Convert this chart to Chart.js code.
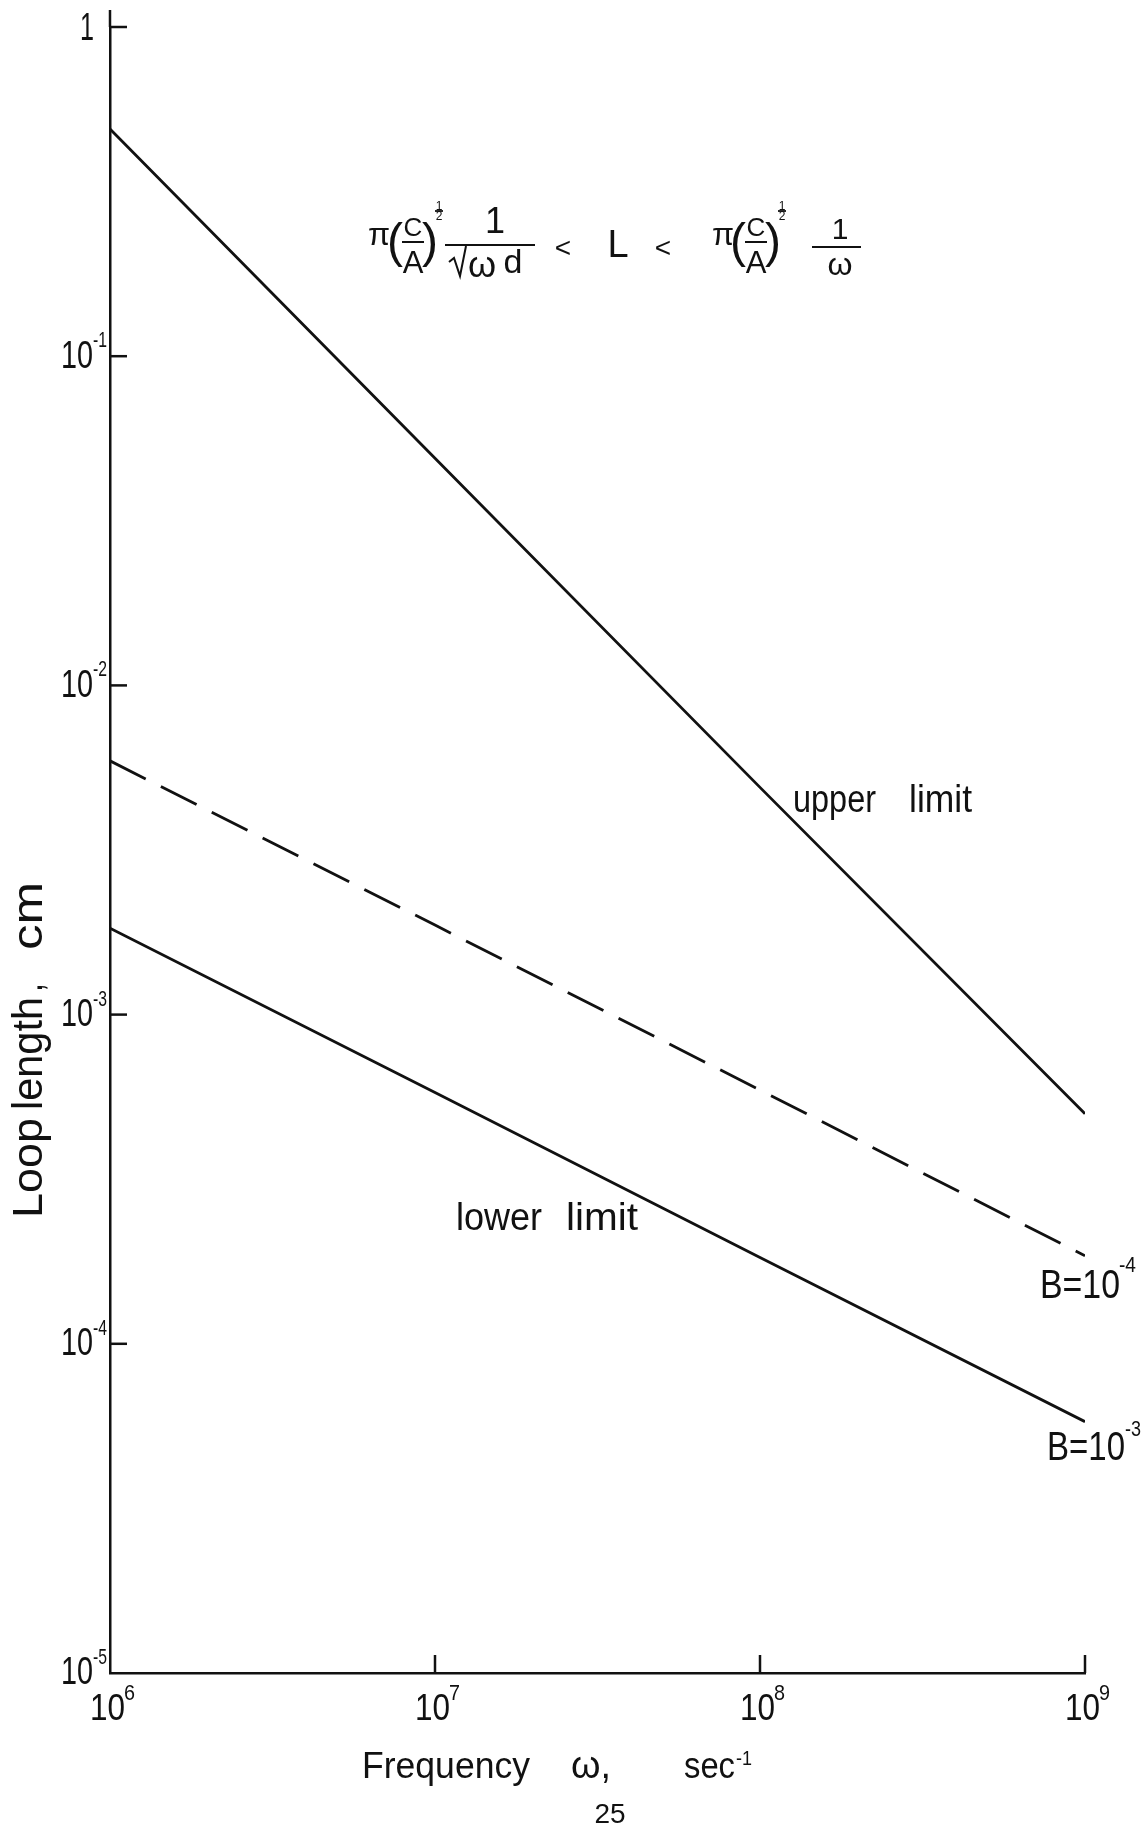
<!DOCTYPE html>
<html>
<head>
<meta charset="utf-8">
<title>Loop length</title>
<script src="https://cdn.jsdelivr.net/npm/chart.js@4/dist/chart.umd.min.js"></script>
<style>
  html, body { margin: 0; padding: 0; background: #fff; overflow: hidden; }
  #wrap { position: relative; width: 1147px; height: 1827px; }
</style>
</head>
<body>
<div id="wrap"><canvas id="loopChart"></canvas></div>
<script>
// frequency omega (sec^-1) and loop length L (cm)
const frequencies = [1e6, 1e7, 1e8, 1e9];
const upperLimit = [0.49, 0.049, 4.9e-3, 5.0e-4];
const lowerLimitB4 = [5.9e-3, 1.87e-3, 5.9e-4, 1.85e-4];
const lowerLimitB3 = [1.83e-3, 5.8e-4, 1.83e-4, 5.8e-5];

// axis ticks, labelled as powers of ten
const xTicks = [1e6, 1e7, 1e8, 1e9];
const xTickExp = ['6', '7', '8', '9'];
const yTicks = [1, 1e-1, 1e-2, 1e-3, 1e-4, 1e-5];
const yTickExp = ['', '-1', '-2', '-3', '-4', '-5'];

const ink = '#111';
const SANS = "'Liberation Sans', Arial, sans-serif";

function txt(ctx, s, x, y, size, align, base) {
  ctx.font = size + 'px ' + SANS;
  ctx.textAlign = align || 'left';
  ctx.textBaseline = base || 'alphabetic';
  ctx.fillText(s, x, y);
}

// text squeezed or stretched to a given width (lettering is narrow)
function fit(ctx, s, x, y, size, width, align, base) {
  ctx.font = size + 'px ' + SANS;
  const w = ctx.measureText(s).width;
  const x0 = align === 'right' ? x - width : align === 'center' ? x - width / 2 : x;
  ctx.save();
  ctx.textAlign = 'left';
  ctx.textBaseline = base || 'alphabetic';
  ctx.translate(x0, y);
  ctx.scale(width / w, 1);
  ctx.fillText(s, 0, 0);
  ctx.restore();
}

function seg(ctx, x1, y1, x2, y2, w) {
  ctx.lineWidth = w || 2.5;
  ctx.beginPath();
  ctx.moveTo(x1, y1);
  ctx.lineTo(x2, y2);
  ctx.stroke();
}

// small stacked 1/2 exponent
function half(ctx, x, y) {
  txt(ctx, '1', x, y - 4, 12, 'center', 'middle');
  seg(ctx, x - 4, y, x + 4, y, 1.8);
  txt(ctx, '2', x, y + 6, 12, 'center', 'middle');
}

function formula(ctx) {
  const d = 5; // vertical shift of the whole expression
  // left side: pi (C/A)^1/2 1/sqrt(wd)
  txt(ctx, 'π', 379, 231 + d, 32, 'center', 'middle');
  txt(ctx, '(', 395, 239 + d, 48, 'center', 'middle');
  txt(ctx, 'C', 413, 224 + d, 26, 'center', 'middle');
  seg(ctx, 402, 237 + d, 424, 237 + d, 2);
  txt(ctx, 'A', 413, 259 + d, 31, 'center', 'middle');
  txt(ctx, ')', 430, 239 + d, 48, 'center', 'middle');
  half(ctx, 439, 206 + d);
  txt(ctx, '1', 495, 218 + d, 36, 'center', 'middle');
  seg(ctx, 445, 240 + d, 535, 240 + d, 2);
  ctx.lineWidth = 2;
  ctx.beginPath();
  ctx.moveTo(449, 257 + d);
  ctx.lineTo(454, 253 + d);
  ctx.lineTo(460, 271 + d);
  ctx.lineTo(466, 241 + d);
  ctx.stroke();
  txt(ctx, 'ω', 482, 262 + d, 36, 'center', 'middle');
  txt(ctx, 'd', 513, 259 + d, 34, 'center', 'middle');

  txt(ctx, '<', 563, 244 + d, 28, 'center', 'middle');
  txt(ctx, 'L', 618, 242 + d, 38, 'center', 'middle');
  txt(ctx, '<', 663, 244 + d, 28, 'center', 'middle');

  // right side: pi (C/A)^1/2 1/w
  txt(ctx, 'π', 723, 231 + d, 32, 'center', 'middle');
  txt(ctx, '(', 738, 239 + d, 48, 'center', 'middle');
  txt(ctx, 'C', 756, 224 + d, 26, 'center', 'middle');
  seg(ctx, 745, 237 + d, 767, 237 + d, 2);
  txt(ctx, 'A', 756, 259 + d, 31, 'center', 'middle');
  txt(ctx, ')', 773, 239 + d, 48, 'center', 'middle');
  half(ctx, 782, 206 + d);
  txt(ctx, '1', 840, 226 + d, 30, 'center', 'middle');
  seg(ctx, 812, 242 + d, 861, 242 + d, 2);
  txt(ctx, 'ω', 840, 261 + d, 32, 'center', 'middle');
}

const annotations = {
  id: 'annotations',
  afterDraw(chart) {
    const ctx = chart.ctx;
    const xs = chart.scales.x, ys = chart.scales.y;
    const { left, top, bottom } = chart.chartArea;
    ctx.save();
    ctx.strokeStyle = ink;
    ctx.fillStyle = ink;

    // axis stub above the top tick
    seg(ctx, left, top, left, top - 17);

    // y ticks point into the plot
    yTicks.forEach((v, i) => {
      const py = ys.getPixelForValue(v);
      if (i < yTicks.length - 1) seg(ctx, left, py, left + 17, py);
      if (!yTickExp[i]) {
        fit(ctx, '1', left - 16, py + 3, 38, 14, 'right', 'middle');
      } else {
        fit(ctx, '10', left - 17, py + 1, 38, 32, 'right', 'middle');
        fit(ctx, yTickExp[i], left - 17, py - 15, 22, 14, 'left', 'middle');
      }
    });

    // x ticks point up
    xTicks.forEach((v, i) => {
      const px = xs.getPixelForValue(v);
      if (i > 0) seg(ctx, px, bottom, px, bottom - 18);
      fit(ctx, '10', px + 15, bottom + 37, 36, 35, 'right', 'middle');
      fit(ctx, xTickExp[i], px + 14, bottom + 21, 22, 11, 'left', 'middle');
    });

    // axis titles
    fit(ctx, 'Frequency', 362, 1778, 36, 168);
    fit(ctx, 'ω,', 571, 1778, 38, 40);
    fit(ctx, 'sec', 684, 1778, 36, 51);
    fit(ctx, '-1', 736, 1759, 20, 16, 'left', 'middle');

    ctx.save();
    ctx.translate(42, 1218);
    ctx.rotate(-Math.PI / 2);
    fit(ctx, 'Loop', 0, 0, 42, 100);
    fit(ctx, 'length', 108, 0, 42, 113);
    fit(ctx, ',', 226, 0, 42, 9);
    fit(ctx, 'cm', 268, 0, 42, 68);
    ctx.restore();

    // curve labels
    fit(ctx, 'upper', 793, 812, 38, 83);
    fit(ctx, 'limit', 909, 812, 38, 63);
    fit(ctx, 'lower', 456, 1230, 38, 86);
    fit(ctx, 'limit', 566, 1230, 38, 72);
    fit(ctx, 'B=10', 1040, 1298, 41, 80);
    fit(ctx, '-4', 1119, 1266, 22, 17, 'left', 'middle');
    fit(ctx, 'B=10', 1047, 1460, 41, 78);
    fit(ctx, '-3', 1125, 1430, 22, 16, 'left', 'middle');

    formula(ctx);

    // page number
    txt(ctx, '25', 610, 1823, 28, 'center');
    ctx.restore();
  }
};

const points = ys => frequencies.map((f, i) => ({ x: f, y: ys[i] }));

const ctx = document.getElementById('loopChart').getContext('2d');
const chart = new Chart(ctx, {
  type: 'line',
  data: {
    datasets: [
      { label: 'upper limit', data: points(upperLimit), borderColor: ink, borderWidth: 2.8, pointRadius: 0, tension: 0 },
      { label: 'B=10^-4', data: points(lowerLimitB4), borderColor: ink, borderWidth: 2.8, borderDash: [40, 17], pointRadius: 0, tension: 0 },
      { label: 'B=10^-3', data: points(lowerLimitB3), borderColor: ink, borderWidth: 2.8, pointRadius: 0, tension: 0 }
    ]
  },
  options: {
    responsive: true,
    maintainAspectRatio: false,
    animation: false,
    layout: { padding: { left: 110, top: 27, right: 62, bottom: 154 } },
    plugins: { legend: { display: false }, tooltip: { enabled: false } },
    scales: {
      x: {
        type: 'logarithmic', min: 1e6, max: 1e9,
        grid: { drawOnChartArea: false, drawTicks: false },
        ticks: { display: false },
        border: { display: true, color: ink, width: 2.5 }
      },
      y: {
        type: 'logarithmic', min: 1e-5, max: 1,
        grid: { drawOnChartArea: false, drawTicks: false },
        ticks: { display: false },
        border: { display: true, color: ink, width: 2.5 }
      }
    }
  },
  plugins: [annotations]
});
</script>
</body>
</html>
